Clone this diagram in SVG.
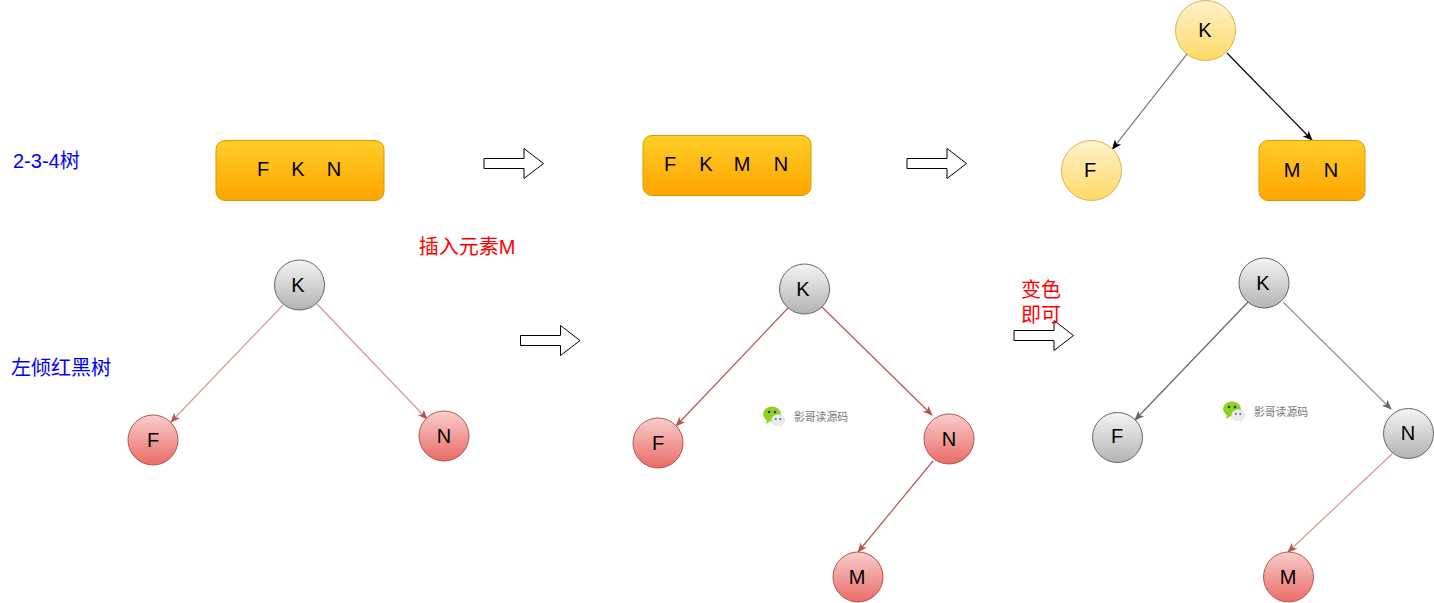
<svg xmlns="http://www.w3.org/2000/svg" width="1434" height="603" viewBox="0 0 1434 603">
<style>
text{font-family:"Liberation Sans","Noto Sans CJK SC",sans-serif;font-size:20px;fill:#000;text-anchor:middle}
.r{fill:url(#red);stroke:#b85450}
.g{fill:url(#gray);stroke:#666}
.y{fill:url(#yel);stroke:#d6b656}
.o{fill:url(#ora);stroke:#d79b00}
.ar{fill:#fff;stroke:#000;stroke-width:1}
.lb{fill:#00f;font-size:20px;text-anchor:start}
.rt{fill:#f00;font-size:20px}
.wm{fill:#777;font-size:10.8px;text-anchor:start}
#connectors path{fill:none;stroke-width:1.200}
</style>
<defs>
<linearGradient id="red" x1="0" y1="0" x2="0" y2="1"><stop offset="0" stop-color="#f8cecc"/><stop offset="1" stop-color="#ea6b66"/></linearGradient>
<linearGradient id="gray" x1="0" y1="0" x2="0" y2="1"><stop offset="0" stop-color="#f5f5f5"/><stop offset="1" stop-color="#b3b3b3"/></linearGradient>
<linearGradient id="yel" x1="0" y1="0" x2="0" y2="1"><stop offset="0" stop-color="#fff2cc"/><stop offset="1" stop-color="#ffd966"/></linearGradient>
<linearGradient id="ora" x1="0" y1="0" x2="0" y2="1"><stop offset="0" stop-color="#ffcd28"/><stop offset="1" stop-color="#ffa500"/></linearGradient>
<marker id="mr" viewBox="0 0 10 10" refX="9" refY="5" markerWidth="10" markerHeight="10" markerUnits="userSpaceOnUse" orient="auto"><path d="M0 1L10 5L0 9L2.500 5Z" fill="#b85450"/></marker>
<marker id="mg" viewBox="0 0 10 10" refX="9" refY="5" markerWidth="10" markerHeight="10" markerUnits="userSpaceOnUse" orient="auto"><path d="M0 1L10 5L0 9L2.500 5Z" fill="#666"/></marker>
<marker id="mk" viewBox="0 0 10 10" refX="9" refY="5" markerWidth="10" markerHeight="10" markerUnits="userSpaceOnUse" orient="auto"><path d="M0 1L10 5L0 9L2.500 5Z" fill="#000"/></marker>
<path id="arrow" d="M0 10.500H40V0.500L59.500 15.500L40 30.500V20.500H0Z"/>
<g id="wechat">
<ellipse cx="9" cy="9" rx="9" ry="7.500" fill="#8fd321"/><path d="M4 14L3 19L9 15Z" fill="#8fd321"/>
<circle cx="6" cy="7" r="1.300" fill="#333"/><circle cx="12" cy="7" r="1.300" fill="#333"/>
<ellipse cx="15" cy="15" rx="6.500" ry="5.500" fill="#e8eef0" stroke="#c4ccd0" stroke-width="0.500"/><path d="M17 19L20 23L14 20Z" fill="#e8eef0"/>
<circle cx="12.800" cy="14" r="0.900" fill="#555"/><circle cx="17.200" cy="14" r="0.900" fill="#555"/>
</g>
</defs>
<g id="connectors">
<path d="M1187 54L1112.500 149" stroke="#666" marker-end="url(#mk)"/>
<path d="M1227 53L1312 140" stroke="#000" marker-end="url(#mk)"/>
<path d="M283 305L171 422" stroke="#b85450" stroke-opacity="0.600" marker-end="url(#mr)"/>
<path d="M317 304L427 419" stroke="#b85450" stroke-opacity="0.600" marker-end="url(#mr)"/>
<path d="M788 308L676 426" stroke="#b85450" marker-end="url(#mr)"/>
<path d="M822 307L932 415" stroke="#b85450" marker-end="url(#mr)"/>
<path d="M933 461L858 552" stroke="#b85450" marker-end="url(#mr)"/>
<path d="M1248 302L1135 420" stroke="#666" marker-end="url(#mg)"/>
<path d="M1283 302L1391 409" stroke="#666" stroke-opacity="0.700" marker-end="url(#mg)"/>
<path d="M1392 454L1288 552" stroke="#b85450" stroke-opacity="0.600" marker-end="url(#mr)"/>
</g>
<g id="arrows">
<use href="#arrow" class="ar" x="484" y="148"/>
<use href="#arrow" class="ar" x="907" y="148"/>
<use href="#arrow" class="ar" x="520.500" y="325"/>
<use href="#arrow" class="ar" x="1014" y="320"/>
</g>
<g id="label-234"><text class="lb" x="13" y="168">2-3-4树</text></g>
<g id="label-llrb"><text class="lb" x="11" y="375">左倾红黑树</text></g>
<g id="label-insert"><text class="rt" x="467" y="254">插入元素M</text></g>
<g id="label-recolor"><text class="rt" x="1041" y="297">变色</text><text class="rt" x="1041" y="322">即可</text></g>
<g id="top1"><rect class="o" x="216" y="140.500" width="168" height="60" rx="9"/><text x="263" y="176">F</text><text x="298" y="176">K</text><text x="334" y="176">N</text></g>
<g id="top2"><rect class="o" x="643" y="135.500" width="168" height="60" rx="9"/><text x="670" y="171">F</text><text x="706" y="171">K</text><text x="742" y="171">M</text><text x="781" y="171">N</text></g>
<g id="top3-k"><circle class="y" cx="1205.500" cy="30.500" r="30"/><text x="1205" y="37">K</text></g>
<g id="top3-f"><circle class="y" cx="1091.500" cy="170.500" r="30"/><text x="1090" y="177">F</text></g>
<g id="top3-mn"><rect class="o" x="1259" y="140.500" width="106" height="60" rx="9"/><text x="1292" y="177">M</text><text x="1331" y="177">N</text></g>
<g id="a-k"><circle class="g" cx="299.500" cy="285" r="25"/><text x="298" y="292">K</text></g>
<g id="a-f"><circle class="r" cx="153" cy="440" r="25"/><text x="153" y="447">F</text></g>
<g id="a-n"><circle class="r" cx="444" cy="436" r="25"/><text x="444" y="443">N</text></g>
<g id="b-k"><circle class="g" cx="804.500" cy="289" r="25"/><text x="803" y="296">K</text></g>
<g id="b-f"><circle class="r" cx="658" cy="443" r="25"/><text x="658" y="450">F</text></g>
<g id="b-n"><circle class="r" cx="949" cy="439" r="25"/><text x="949" y="446">N</text></g>
<g id="b-m"><circle class="r" cx="858" cy="577" r="25"/><text x="857" y="584">M</text></g>
<g id="c-k"><circle class="g" cx="1264" cy="283" r="25"/><text x="1263" y="290">K</text></g>
<g id="c-f"><circle class="g" cx="1117.500" cy="437.500" r="25"/><text x="1117" y="443">F</text></g>
<g id="c-n"><circle class="g" cx="1408.500" cy="433.500" r="25"/><text x="1408" y="440">N</text></g>
<g id="c-m"><circle class="r" cx="1288.500" cy="577" r="25"/><text x="1288" y="584">M</text></g>
<g id="wm1"><use href="#wechat" x="763" y="405"/><text class="wm" x="794" y="421">影哥读源码</text></g>
<g id="wm2"><use href="#wechat" x="1223" y="400"/><text class="wm" x="1254" y="416">影哥读源码</text></g>
</svg>
